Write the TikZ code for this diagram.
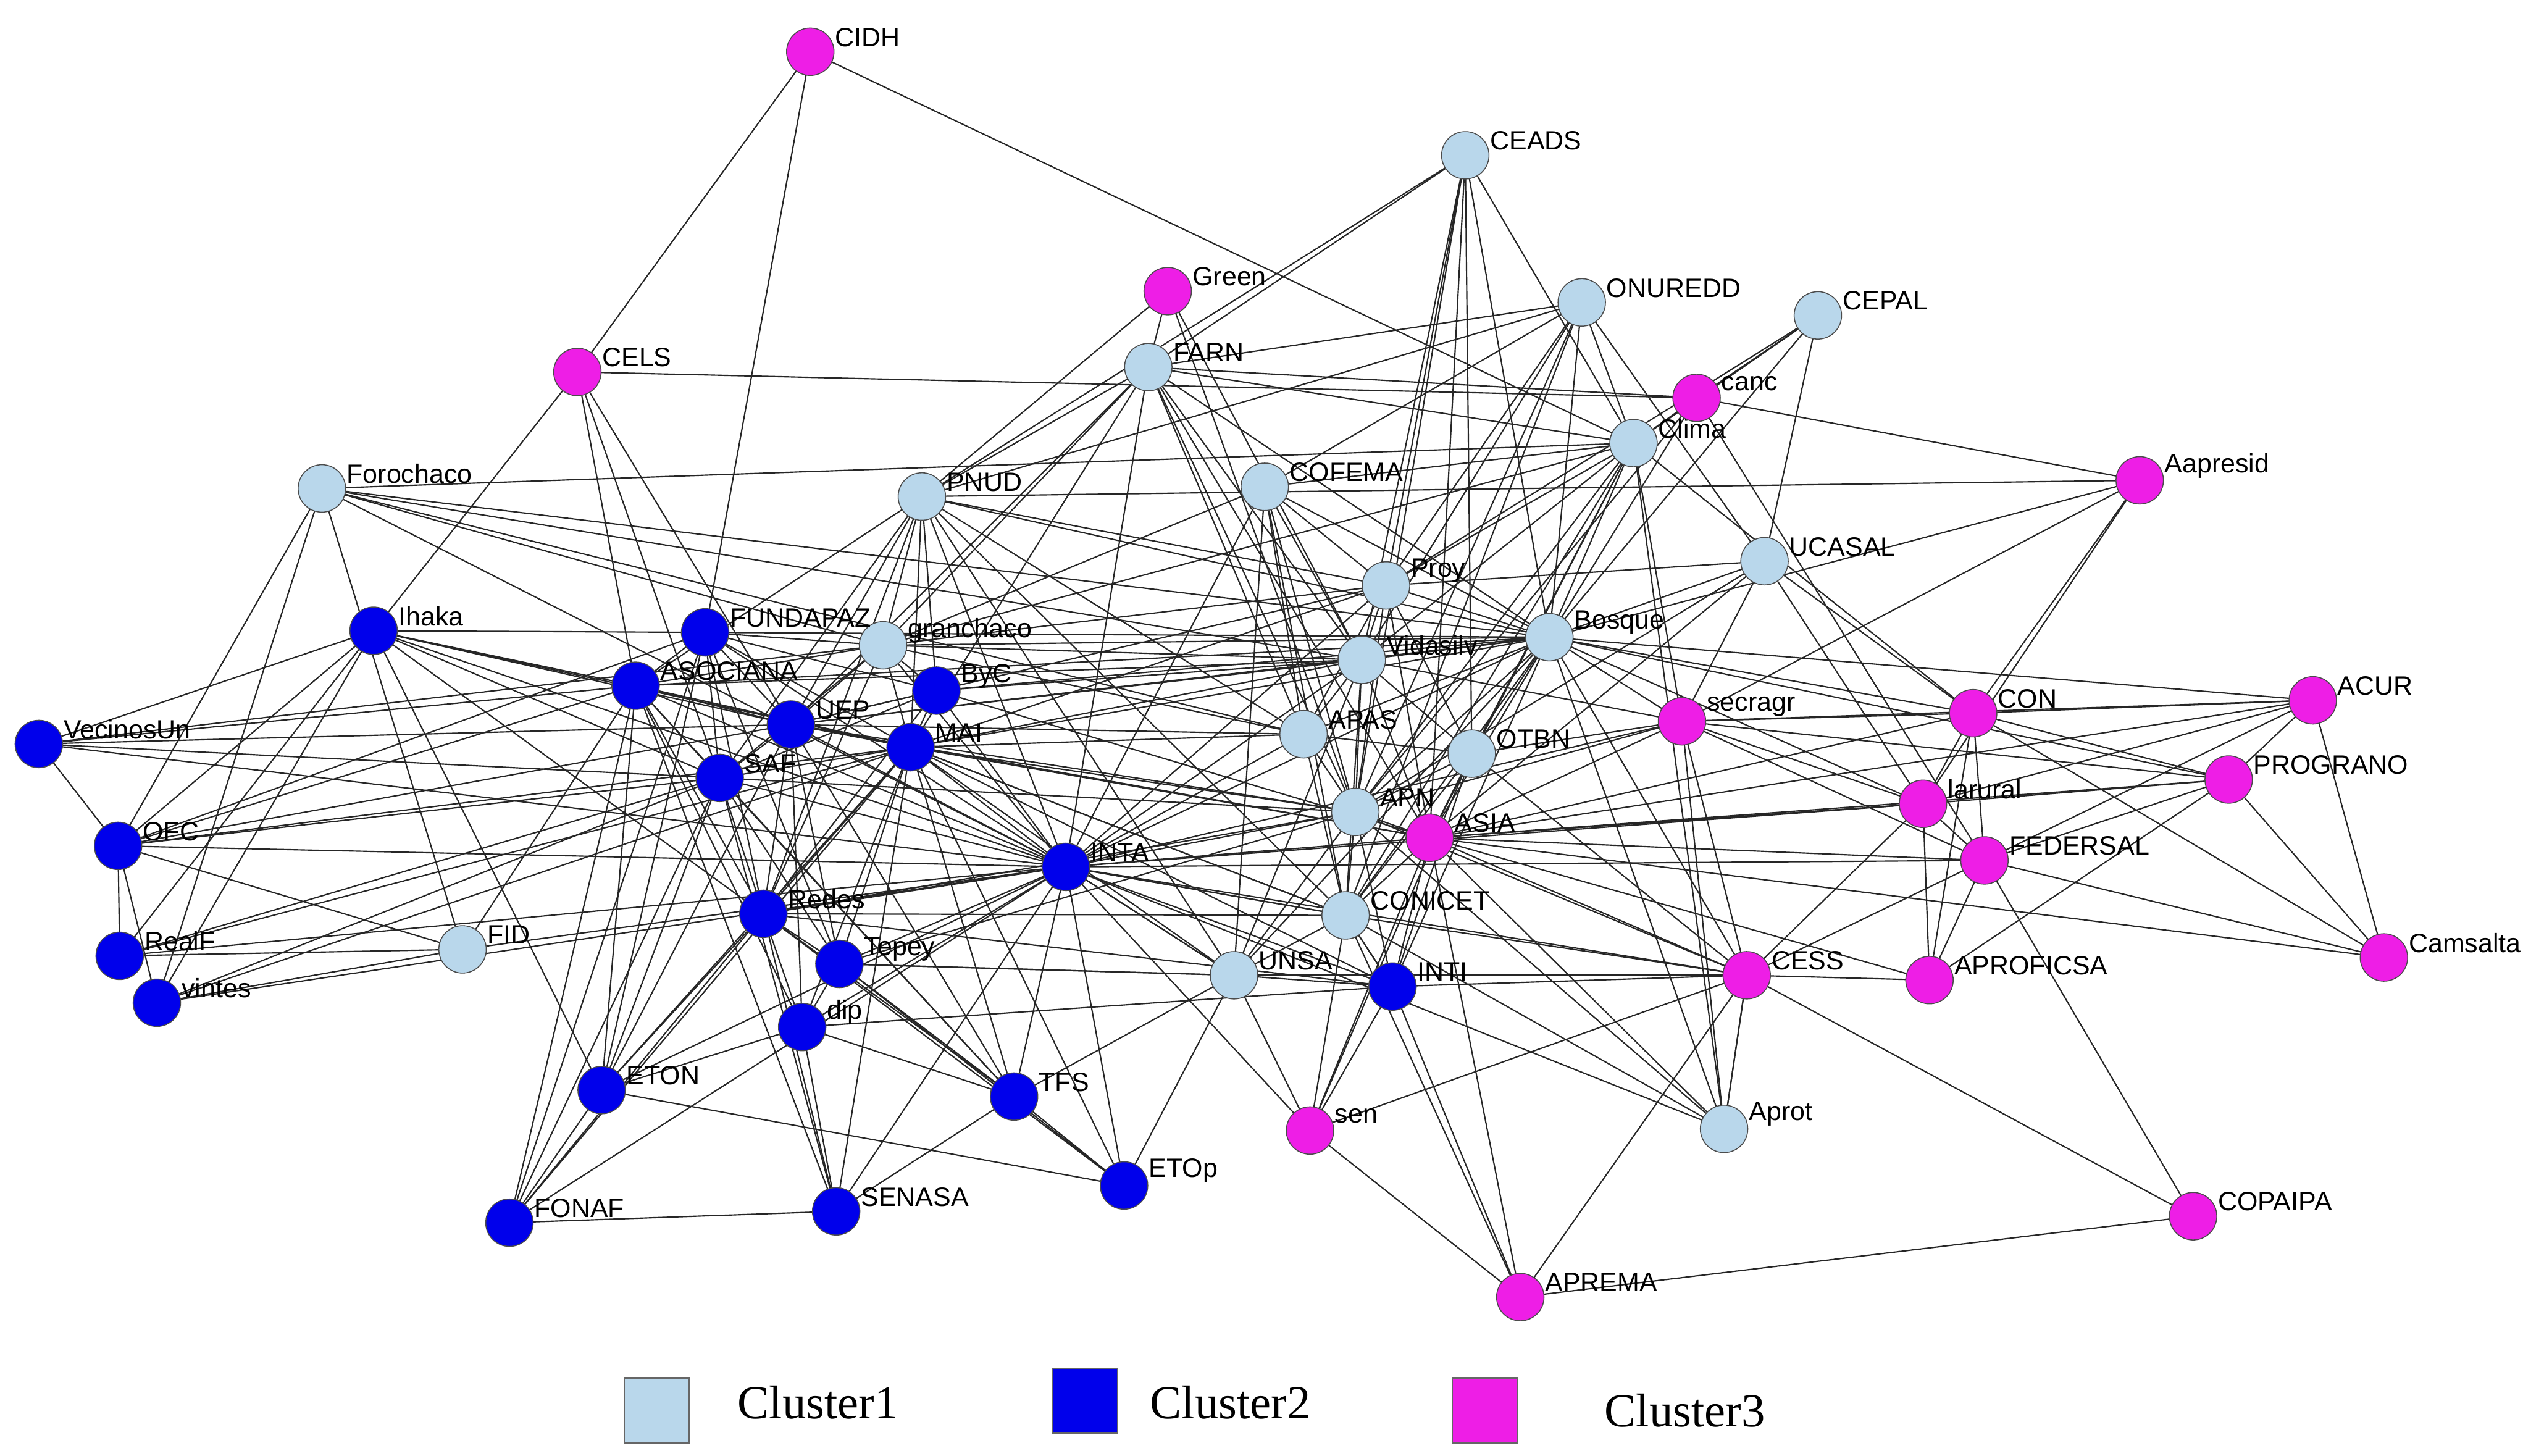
\documentclass[tikz,border=0pt]{standalone}
\usepackage{fontspec}
\setmainfont{Liberation Serif}
\newfontfamily\lab{Liberation Sans}
\definecolor{cA}{RGB}{185,215,235}
\definecolor{cB}{RGB}{0,0,235}
\definecolor{cC}{RGB}{238,30,230}
\begin{document}
\begin{tikzpicture}[x=0.03cm,y=-0.03cm,
 v/.style={circle,draw=black!70,line width=0.5pt,minimum size=0.88cm,inner sep=0pt},
 a/.style={v,fill=cA}, b/.style={v,fill=cB}, c/.style={v,fill=cC},
 lb/.style={anchor=west,font=\lab\fontsize{14}{14}\selectfont,inner sep=1pt},
 e/.style={line width=0.7pt,black!85},
 leg/.style={draw=black!60,line width=0.8pt,minimum size=1.2cm,inner sep=0pt},
 lt/.style={anchor=west,font=\fontsize{25}{25}\selectfont}]
\useasboundingbox (0,0) rectangle (1560,900);
\foreach \n/\x/\y/\s in {CEADS/906/96/a,ONUREDD/978/187/a,CEPAL/1124/195/a,FARN/710/227/a,Clima/1010/274/a,Forochaco/199/302/a,PNUD/570/307/a,COFEMA/782/301/a,Proy/857/362/a,UCASAL/1091/347/a,granchaco/546/399/a,Bosque/958/394/a,Vidasilv/842/408/a,APAS/806/454/a,OTBN/910/466/a,APN/838/502/a,CONICET/832/566/a,FID/286/587/a,UNSA/763/603/a,Aprot/1066/698/a,
Ihaka/231/390/b,FUNDAPAZ/436/391/b,ASOCIANA/393/424/b,ByC/579/427/b,UEP/489/448/b,MAI/563/462/b,VecinosUn/24/460/b,SAF/445/481/b,OFC/73/523/b,INTA/659/536/b,Redes/472/565/b,RealF/74/591/b,vintes/97/620/b,Tepey/519/596/b,dip/496/635/b,INTI/861/610/b,ETON/372/674/b,TFS/627/678/b,ETOp/695/733/b,FONAF/315/756/b,SENASA/517/749/b,
CIDH/501/32/c,Green/722/180/c,CELS/357/230/c,canc/1049/246/c,Aapresid/1323/297/c,secragr/1040/446/c,CON/1220/441/c,ACUR/1430/433/c,larural/1189/497/c,PROGRANO/1378/482/c,ASIA/884/518/c,FEDERSAL/1227/532/c,Camsalta/1474/592/c,CESS/1080/603/c,APROFICSA/1193/606/c,sen/810/699/c,COPAIPA/1356/752/c,APREMA/940/802/c}
 \coordinate (\n) at (\x,\y);
\foreach \a/\l in {CIDH/{CELS,FUNDAPAZ,Clima},CELS/{Ihaka,ASOCIANA,SAF,canc,UEP},Green/{FARN,PNUD,APN,Vidasilv},
CEADS/{FARN,PNUD,Proy,Vidasilv,Bosque,APN,OTBN,Clima,ASIA},
ONUREDD/{PNUD,FARN,Bosque,APN,Clima,COFEMA,CONICET,Vidasilv,Proy,UCASAL},
CEPAL/{Clima,UCASAL,Bosque,Proy,canc},
FARN/{granchaco,PNUD,INTA,APN,Vidasilv,Bosque,Clima,ASIA,APAS,MAI,UEP,canc},
Clima/{Proy,COFEMA,Bosque,Vidasilv,APN,OTBN,ASIA,granchaco,secragr,CON,Aprot,CONICET,Forochaco,canc},
canc/{Aapresid,Bosque,APN,FEDERSAL},Aapresid/{CON,larural,Bosque,secragr,PNUD},
Forochaco/{OFC,Bosque,granchaco,APAS,INTA,Vidasilv,FID,vintes},
PNUD/{granchaco,ASOCIANA,UEP,MAI,INTA,Redes,Bosque,APAS,SAF,Proy,CONICET,UNSA,ByC},
COFEMA/{Proy,APN,INTA,Bosque,Vidasilv,CONICET,granchaco,UNSA,APAS},
Proy/{Bosque,Vidasilv,APAS,OTBN,APN,INTA,UEP,MAI,UCASAL,granchaco,ASIA},
UCASAL/{Bosque,CON,secragr,ASIA,APN,larural},
granchaco/{Bosque,Vidasilv,UEP,MAI,INTA,ASOCIANA,FUNDAPAZ,ByC,APAS,SAF,Redes},
Bosque/{Vidasilv,OTBN,APN,ASIA,secragr,CON,larural,APAS,INTA,MAI,UEP,ByC,CONICET,UNSA,INTI,Aprot,CESS,PROGRANO,ACUR,FUNDAPAZ,ASOCIANA},
Vidasilv/{APAS,APN,INTA,MAI,UEP,OTBN,ASIA,CONICET,UNSA,secragr,ByC,ASOCIANA},
APAS/{APN,INTA,MAI,OTBN,CONICET,UEP},OTBN/{APN,ASIA,CONICET,INTI,secragr,CESS,sen},
APN/{ASIA,INTA,CONICET,UNSA,INTI,MAI,UEP,SAF,secragr,CESS,Redes,Tepey},
CONICET/{INTA,UNSA,INTI,ASIA,APREMA,sen,Redes,MAI,CESS,Aprot},
FID/{OFC,RealF,vintes,INTA,ASOCIANA},UNSA/{INTA,INTI,sen,Tepey,CESS,ETOp,TFS,MAI},
Aprot/{CESS,ASIA,APN,INTA,secragr},
Ihaka/{VecinosUn,OFC,FUNDAPAZ,ASOCIANA,UEP,MAI,SAF,INTA,RealF,vintes,Redes,ETON},
FUNDAPAZ/{ASOCIANA,UEP,MAI,ByC,SAF,INTA,Redes,Tepey,ETON,FONAF,OFC},
ASOCIANA/{UEP,MAI,SAF,INTA,VecinosUn,OFC,Redes,ETON,FONAF,dip,SENASA,TFS},
ByC/{UEP,MAI,INTA,SAF,Redes,ASIA},
UEP/{MAI,SAF,INTA,Redes,Tepey,dip,ETON,VecinosUn,OFC,ASIA,TFS},
MAI/{SAF,INTA,Redes,Tepey,dip,TFS,ETOp,SENASA,ASIA,CONICET,INTI,ETON,FONAF,vintes,RealF,OFC},
VecinosUn/{OFC,SAF,INTA,granchaco},SAF/{INTA,Redes,Tepey,OFC,vintes,RealF,ETON,SENASA,TFS,FONAF},
OFC/{RealF,vintes,INTA},
INTA/{Redes,Tepey,dip,TFS,ETOp,INTI,ASIA,CONICET,UNSA,sen,CESS,FEDERSAL,larural,ETON,SENASA,FONAF,RealF,vintes,secragr},
Redes/{Tepey,dip,TFS,ETOp,ETON,FONAF,SENASA,INTI},Tepey/{dip,TFS,ETOp,UNSA},dip/{TFS,ETON,SENASA,INTI},
INTI/{ASIA,CESS,APREMA,sen,CONICET},ETON/{FONAF,ETOp},TFS/{ETOp,SENASA},FONAF/{SENASA},
secragr/{CON,larural,FEDERSAL,ACUR,CESS,PROGRANO,ASIA},
CON/{larural,ACUR,FEDERSAL,PROGRANO,Camsalta,APROFICSA,ASIA},
ACUR/{PROGRANO,larural,FEDERSAL,Camsalta,ASIA},larural/{PROGRANO,FEDERSAL,ASIA,APROFICSA,CESS},
PROGRANO/{FEDERSAL,Camsalta,APROFICSA,ASIA},ASIA/{FEDERSAL,CESS,APROFICSA,sen,APREMA,Camsalta,larural},
FEDERSAL/{Camsalta,APROFICSA,CESS,COPAIPA},CESS/{APROFICSA,sen,COPAIPA,APREMA,Aprot},COPAIPA/{APREMA},sen/{APREMA}}
 \foreach \b in \l \draw[e] (\a) -- (\b);
\foreach \n/\x/\y/\s in {CEADS/906/96/a,ONUREDD/978/187/a,CEPAL/1124/195/a,FARN/710/227/a,Clima/1010/274/a,Forochaco/199/302/a,PNUD/570/307/a,COFEMA/782/301/a,Proy/857/362/a,UCASAL/1091/347/a,granchaco/546/399/a,Bosque/958/394/a,Vidasilv/842/408/a,APAS/806/454/a,OTBN/910/466/a,APN/838/502/a,CONICET/832/566/a,FID/286/587/a,UNSA/763/603/a,Aprot/1066/698/a,
Ihaka/231/390/b,FUNDAPAZ/436/391/b,ASOCIANA/393/424/b,ByC/579/427/b,UEP/489/448/b,MAI/563/462/b,VecinosUn/24/460/b,SAF/445/481/b,OFC/73/523/b,INTA/659/536/b,Redes/472/565/b,RealF/74/591/b,vintes/97/620/b,Tepey/519/596/b,dip/496/635/b,INTI/861/610/b,ETON/372/674/b,TFS/627/678/b,ETOp/695/733/b,FONAF/315/756/b,SENASA/517/749/b,
CIDH/501/32/c,Green/722/180/c,CELS/357/230/c,canc/1049/246/c,Aapresid/1323/297/c,secragr/1040/446/c,CON/1220/441/c,ACUR/1430/433/c,larural/1189/497/c,PROGRANO/1378/482/c,ASIA/884/518/c,FEDERSAL/1227/532/c,Camsalta/1474/592/c,CESS/1080/603/c,APROFICSA/1193/606/c,sen/810/699/c,COPAIPA/1356/752/c,APREMA/940/802/c}
 {\node[\s] (\n-n) at (\x,\y) {};
  \node[lb] (\n-l) at (\x+14,\y-9) {\n};}
\node[leg,fill=cA] (L1) at (406,872) {};
\node[lt] (T1) at (452,867) {Cluster1};
\node[leg,fill=cB] (L2) at (671,866) {};
\node[lt] (T2) at (707,867) {Cluster2};
\node[leg,fill=cC] (L3) at (918,872) {};
\node[lt] (T3) at (988,872) {Cluster3};
\end{tikzpicture}
\end{document}
